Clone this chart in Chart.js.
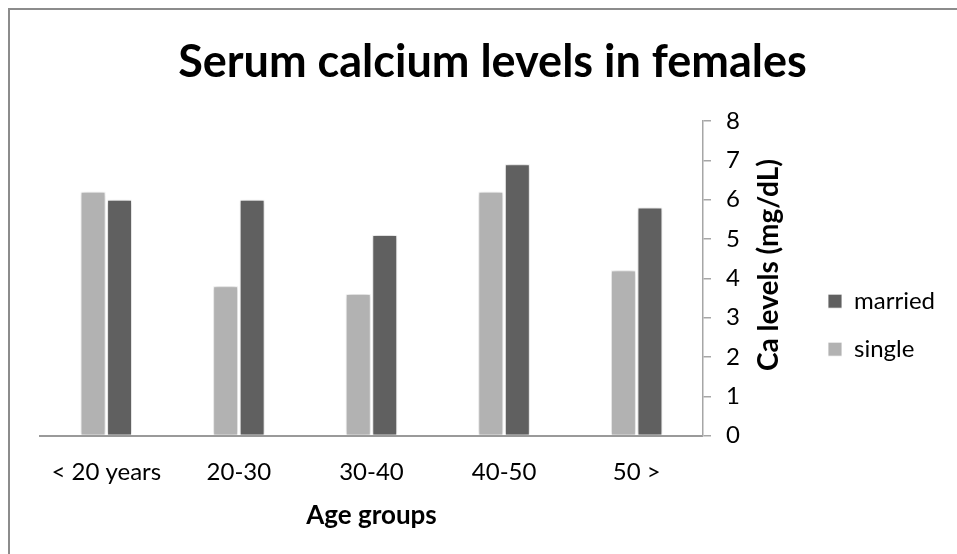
<!DOCTYPE html>
<html>
<head>
<meta charset="utf-8">
<script src="https://cdn.jsdelivr.net/npm/chart.js@4/dist/chart.umd.min.js"></script>
<style>
  html, body { margin: 0; padding: 0; background: #fff; }
  #wrap { position: relative; width: 957px; height: 554px; }
  #frame { position: absolute; left: 8px; top: 8px; width: 960px; height: 560px;
           border-left: 2px solid #8c8c8c; border-top: 2px solid #8c8c8c; box-sizing: border-box; pointer-events: none; }
  canvas { position: absolute; left: 0; top: 0; }
</style>
</head>
<body>
<div id="wrap">
  <canvas id="c" width="957" height="554"></canvas>
  <div id="frame"></div>
</div>
<script>
const categories = ['< 20 years', '20-30', '30-40', '40-50', '50 >'];
const singleValues = [6.2, 3.8, 3.6, 6.2, 4.2];
const marriedValues = [6.0, 6.0, 5.1, 6.9, 5.8];
const yTicks = [0, 1, 2, 3, 4, 5, 6, 7, 8];
const chartTitle = 'Serum calcium levels in females';
const xTitle = 'Age groups';
const yTitle = 'Ca levels (mg/dL)';

const FONT = "Lato, 'Open Sans', sans-serif";

const shadowPlugin = {
  id: 'barShadow',
  beforeDatasetDraw(chart) {
    const ctx = chart.ctx;
    ctx.save();
    ctx.shadowColor = 'rgba(0,0,0,0.28)';
    ctx.shadowBlur = 5;
    ctx.shadowOffsetX = 0;
    ctx.shadowOffsetY = 0;
  },
  afterDatasetDraw(chart) {
    chart.ctx.restore();
  }
};

const yTitlePlugin = {
  id: 'yTitle',
  afterDraw(chart) {
    const ctx = chart.ctx;
    const ys = chart.scales.y;
    ctx.save();
    ctx.translate(ys.left + 66, 265);
    ctx.rotate(-Math.PI / 2);
    ctx.font = "bold 28px " + FONT;
    ctx.fillStyle = '#000';
    ctx.textAlign = 'center';
    ctx.textBaseline = 'middle';
    ctx.fillText(yTitle, 0, 0);
    ctx.restore();
  }
};

new Chart(document.getElementById('c'), {
  type: 'bar',
  data: {
    labels: categories,
    datasets: [
      { label: 'single', data: singleValues, backgroundColor: '#b2b2b2',
        borderColor: 'rgba(255,255,255,0.85)', borderWidth: 1,
        categoryPercentage: 0.4, barPercentage: 0.94 },
      { label: 'married', data: marriedValues, backgroundColor: '#606060',
        borderColor: 'rgba(255,255,255,0.85)', borderWidth: 1,
        categoryPercentage: 0.4, barPercentage: 0.94 }
    ]
  },
  plugins: [shadowPlugin, yTitlePlugin],
  options: {
    responsive: false,
    animation: false,
    layout: { padding: { left: 40, top: 10, right: 12, bottom: 10 } },
    plugins: {
      title: {
        display: true, text: chartTitle, color: '#000',
        font: { family: FONT, size: 45, weight: 'bold' },
        padding: { top: 25, bottom: 32 }
      },
      legend: {
        position: 'right',
        reverse: true,
        title: { display: true, text: '', padding: { top: 82, bottom: 0 }, font: { size: 12 } },
        labels: {
          color: '#000', boxWidth: 14, boxHeight: 14, padding: 24,
          font: { family: FONT, size: 24 }
        }
      },
      tooltip: { enabled: false }
    },
    scales: {
      x: {
        grid: { display: false, drawTicks: false },
        border: { display: true, color: '#9a9a9a', width: 2 },
        ticks: { color: '#000', font: { family: FONT, size: 24 }, padding: 22, maxRotation: 0 },
        title: { display: true, text: xTitle, color: '#000', font: { family: FONT, size: 26, weight: 'bold' }, padding: { top: -8.6, bottom: 13 } }
      },
      y: {
        position: 'right',
        min: 0, max: 8,
        afterBuildTicks(scale) { scale.ticks = yTicks.map(v => ({ value: v })); },
        afterFit(scale) { scale.width = 101; },
        grid: { display: true, drawOnChartArea: false, drawTicks: true, tickLength: 8, color: '#a6a6a6', lineWidth: 1.5 },
        border: { display: true, color: '#a6a6a6', width: 1.5 },
        ticks: { color: '#000', font: { family: FONT, size: 24 }, padding: 15 }
      }
    }
  }
});
</script>
</body>
</html>
